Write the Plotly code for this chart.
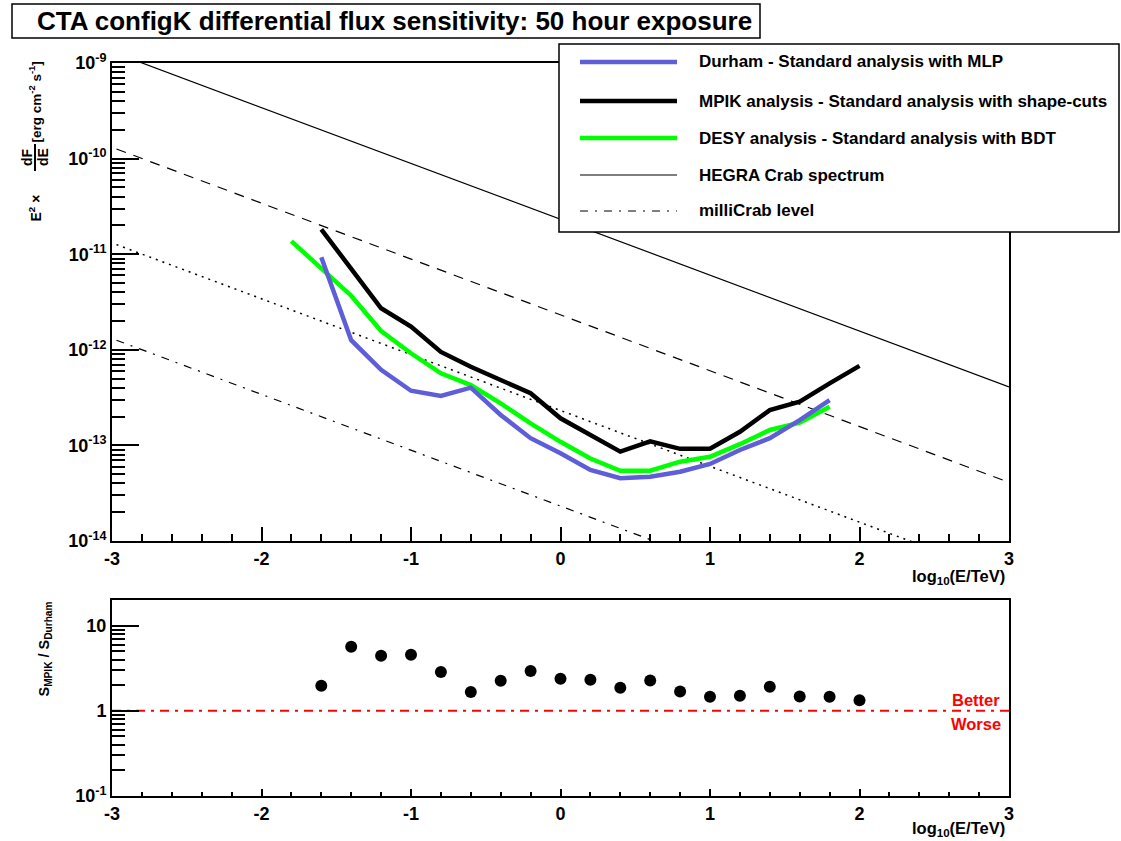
import plotly.graph_objects as go

# ---------------- data ----------------
energy_mpik = [-1.6, -1.4, -1.2, -1.0, -0.8, -0.6, -0.4, -0.2, 0.0, 0.2,
               0.4, 0.6, 0.8, 1.0, 1.2, 1.4, 1.6, 1.8, 2.0]
sens_mpik = [1.82e-11, 7.1e-12, 2.72e-12, 1.75e-12, 9.5e-13, 6.65e-13, 4.83e-13,
             3.51e-13, 1.92e-13, 1.29e-13, 8.6e-14, 1.1e-13, 9.2e-14, 9.25e-14,
             1.39e-13, 2.34e-13, 2.86e-13, 4.46e-13, 6.78e-13]

energy_durham = [-1.6, -1.4, -1.2, -1.0, -0.8, -0.6, -0.4, -0.2, 0.0, 0.2,
                 0.4, 0.6, 0.8, 1.0, 1.2, 1.4, 1.6, 1.8]
sens_durham = [9.3e-12, 1.26e-12, 6.17e-13, 3.73e-13, 3.29e-13, 4.02e-13, 2.08e-13,
               1.19e-13, 8.26e-14, 5.53e-14, 4.53e-14, 4.71e-14, 5.31e-14, 6.39e-14,
               8.95e-14, 1.19e-13, 1.84e-13, 2.98e-13]

energy_desy = [-1.8, -1.6, -1.4, -1.2, -1.0, -0.8, -0.6, -0.4, -0.2, 0.0,
               0.2, 0.4, 0.6, 0.8, 1.0, 1.2, 1.4, 1.6, 1.8]
sens_desy = [1.37e-11, 7.1e-12, 3.68e-12, 1.57e-12, 9.2e-13, 5.67e-13, 4.28e-13,
             2.75e-13, 1.70e-13, 1.09e-13, 7.3e-14, 5.43e-14, 5.43e-14, 6.76e-14,
             7.6e-14, 1.03e-13, 1.45e-13, 1.73e-13, 2.54e-13]

# reference power-law lines (end points)
ref_x = [-2.97, 3.0]
crab_flux = [1.26e-9, 4.1e-13]
crab_100m = [1.26e-10, 4.1e-14]
crab_10m = [1.26e-11, 4.1e-15]
crab_1m = [1.26e-12, 4.1e-16]

# ratio panel
ratio_x = [-1.6, -1.4, -1.2, -1.0, -0.8, -0.6, -0.4, -0.2, 0.0, 0.2,
           0.4, 0.6, 0.8, 1.0, 1.2, 1.4, 1.6, 1.8, 2.0]
ratio_y = [1.97, 5.66, 4.44, 4.56, 2.85, 1.66, 2.25, 2.93, 2.38, 2.32,
           1.86, 2.27, 1.69, 1.46, 1.50, 1.92, 1.47, 1.46, 1.33]
unity_x = [-3.0, 3.0]
unity_y = [1.0, 1.0]

x_ticks = [-3, -2, -1, 0, 1, 2, 3]
x_ticktext = ["<b>-3</b>", "<b>-2</b>", "<b>-1</b>", "<b>0</b>", "<b>1</b>", "<b>2</b>", "<b>3</b>"]
y_ticks = [1e-14, 1e-13, 1e-12, 1e-11, 1e-10, 1e-9]
y_ticktext = ["<b>10<sup>-14</sup></b>", "<b>10<sup>-13</sup></b>", "<b>10<sup>-12</sup></b>",
              "<b>10<sup>-11</sup></b>", "<b>10<sup>-10</sup></b>", "<b>10<sup>-9</sup></b>"]
r_ticks = [0.1, 1, 10]
r_ticktext = ["<b>10<sup>-1</sup></b>", "<b>1</b>", "<b>10</b>"]

legend_labels = ["Durham - Standard analysis with MLP",
                 "MPIK analysis - Standard analysis with shape-cuts",
                 "DESY analysis - Standard analysis with BDT",
                 "HEGRA Crab spectrum",
                 "milliCrab level"]

# ---------------- styling ----------------
W, H = 1121, 841
FONT = "Liberation Sans, Arial, sans-serif"
BLUE = "#5e5ed8"
GREEN = "#00ff00"
RED = "#ff0000"


def fx(px):
    return px / W


def fy(py):
    return 1 - py / H


x_minor = [round(-3 + 0.2 * i, 1) for i in range(31) if (i % 5) != 0]
y_minor = [m * 10.0 ** e for e in range(-14, -9) for m in range(2, 10)]
r_minor = [m * 10.0 ** e for e in (-1, 0) for m in range(2, 10)]

fig = go.Figure()

# top panel curves
fig.add_trace(go.Scatter(x=ref_x, y=crab_flux, mode="lines",
                         line=dict(color="black", width=1.2), xaxis="x", yaxis="y"))
fig.add_trace(go.Scatter(x=ref_x, y=crab_100m, mode="lines",
                         line=dict(color="black", width=1.2, dash="10px,8px"), xaxis="x", yaxis="y"))
fig.add_trace(go.Scatter(x=ref_x, y=crab_10m, mode="lines",
                         line=dict(color="black", width=1.5, dash="2px,5px"), xaxis="x", yaxis="y"))
fig.add_trace(go.Scatter(x=ref_x, y=crab_1m, mode="lines",
                         line=dict(color="black", width=1.2, dash="8px,7px,2px,7px"), xaxis="x", yaxis="y"))
fig.add_trace(go.Scatter(x=energy_desy, y=sens_desy, mode="lines",
                         line=dict(color=GREEN, width=4.5), xaxis="x", yaxis="y"))
fig.add_trace(go.Scatter(x=energy_durham, y=sens_durham, mode="lines",
                         line=dict(color=BLUE, width=4.5), xaxis="x", yaxis="y"))
fig.add_trace(go.Scatter(x=energy_mpik, y=sens_mpik, mode="lines",
                         line=dict(color="black", width=4.5), xaxis="x", yaxis="y"))

# bottom panel
fig.add_trace(go.Scatter(x=unity_x, y=unity_y, mode="lines",
                         line=dict(color=RED, width=2, dash="9px,6px,3px,6px"), xaxis="x2", yaxis="y2"))
fig.add_trace(go.Scatter(x=ratio_x, y=ratio_y, mode="markers",
                         marker=dict(color="black", size=12, symbol="circle"), xaxis="x2", yaxis="y2"))

axis_common = dict(showline=True, linecolor="black", linewidth=2, mirror=True,
                   showgrid=False, zeroline=False, ticks="inside", tickcolor="black",
                   tickwidth=1.5, tickmode="array", automargin=False,
                   tickfont=dict(family=FONT, size=18, color="black"))

fig.update_layout(
    template="none",
    width=W, height=H, autosize=False,
    margin=dict(l=0, r=0, t=0, b=0, pad=0),
    paper_bgcolor="white", plot_bgcolor="white",
    showlegend=False,
    font=dict(family=FONT, color="black"),
    xaxis=dict(domain=[fx(112), fx(1009)], range=[-3, 3], anchor="y",
               tickvals=x_ticks, ticktext=x_ticktext, ticklen=14,
               minor=dict(ticks="inside", ticklen=7, tickvals=x_minor, tickcolor="black", tickwidth=1.5),
               **axis_common),
    yaxis=dict(domain=[fy(541), fy(63)], type="log", range=[-14, -9], anchor="x",
               tickvals=y_ticks, ticktext=y_ticktext, ticklen=27,
               minor=dict(ticks="inside", ticklen=13, tickvals=y_minor, tickcolor="black", tickwidth=1.5),
               **axis_common),
    xaxis2=dict(domain=[fx(112), fx(1009)], range=[-3, 3], anchor="y2",
                tickvals=x_ticks, ticktext=x_ticktext, ticklen=7,
                minor=dict(ticks="inside", ticklen=4, tickvals=x_minor, tickcolor="black", tickwidth=1.5),
                **axis_common),
    yaxis2=dict(domain=[fy(796), fy(600)], type="log", range=[-1, 1.30103], anchor="x2",
                tickvals=r_ticks, ticktext=r_ticktext, ticklen=27,
                minor=dict(ticks="inside", ticklen=13, tickvals=r_minor, tickcolor="black", tickwidth=1.5),
                **axis_common),
)

shapes = []
annotations = []

# title box
shapes.append(dict(type="rect", xref="paper", yref="paper",
                   x0=fx(12), x1=fx(760), y0=fy(38), y1=fy(4),
                   line=dict(color="black", width=1.5), fillcolor="white"))
annotations.append(dict(xref="paper", yref="paper", x=fx(394), y=fy(21),
                        text="<b>CTA configK differential flux sensitivity: 50 hour exposure</b>",
                        showarrow=False, xanchor="center", yanchor="middle",
                        font=dict(family=FONT, size=26, color="black")))

# legend box
shapes.append(dict(type="rect", xref="paper", yref="paper",
                   x0=fx(559), x1=fx(1119), y0=fy(232), y1=fy(44),
                   line=dict(color="black", width=1.5), fillcolor="white", layer="above"))
leg_rows = [62, 101, 138, 175, 211]
leg_styles = [dict(color=BLUE, width=4.5), dict(color="black", width=4.5),
              dict(color=GREEN, width=4.5), dict(color="black", width=1.2),
              dict(color="black", width=1.2, dash="8px,7px,2px,7px")]
for row, st, lab in zip(leg_rows, leg_styles, legend_labels):
    shapes.append(dict(type="line", xref="paper", yref="paper",
                       x0=fx(580), x1=fx(677), y0=fy(row), y1=fy(row), line=st, layer="above"))
    annotations.append(dict(xref="paper", yref="paper", x=fx(697), y=fy(row),
                            text="<b>" + lab + "</b>", showarrow=False,
                            xanchor="left", yanchor="middle",
                            font=dict(family=FONT, size=17, color="black")))

# y-axis title of top panel (with stacked fraction)
annotations.append(dict(xref="paper", yref="paper", x=fx(35), y=fy(60),
                        text="<b>[erg cm<sup>-2</sup> s<sup>-1</sup>]</b>", textangle=-90,
                        showarrow=False, xanchor="center", yanchor="top",
                        font=dict(family=FONT, size=13.5, color="black")))
annotations.append(dict(xref="paper", yref="paper", x=fx(27), y=fy(157),
                        text="<b>dF</b>", textangle=-90, showarrow=False,
                        xanchor="center", yanchor="middle",
                        font=dict(family=FONT, size=14, color="black")))
annotations.append(dict(xref="paper", yref="paper", x=fx(43), y=fy(157),
                        text="<b>dE</b>", textangle=-90, showarrow=False,
                        xanchor="center", yanchor="middle",
                        font=dict(family=FONT, size=14, color="black")))
shapes.append(dict(type="line", xref="paper", yref="paper",
                   x0=fx(35), x1=fx(35), y0=fy(144), y1=fy(171),
                   line=dict(color="black", width=2)))
annotations.append(dict(xref="paper", yref="paper", x=fx(35), y=fy(224),
                        text="<b>E<sup>2</sup> ×</b>", textangle=-90,
                        showarrow=False, xanchor="center", yanchor="bottom",
                        font=dict(family=FONT, size=14, color="black")))

# y-axis title of bottom panel
annotations.append(dict(xref="paper", yref="paper", x=fx(44), y=fy(600),
                        text="<b>S<sub>MPIK</sub> / S<sub>Durham</sub></b>", textangle=-90,
                        showarrow=False, xanchor="center", yanchor="top",
                        font=dict(family=FONT, size=14.5, color="black")))

# x-axis titles
for ypx in (577, 829):
    annotations.append(dict(xref="paper", yref="paper", x=fx(1007), y=fy(ypx),
                            text="<b>log<sub>10</sub>(E/TeV)</b>", showarrow=False,
                            xanchor="right", yanchor="middle",
                            font=dict(family=FONT, size=16.5, color="black")))

# Better / Worse labels
annotations.append(dict(xref="paper", yref="paper", x=fx(976), y=fy(700),
                        text="<b>Better</b>", showarrow=False, xanchor="center", yanchor="middle",
                        font=dict(family=FONT, size=16.5, color=RED)))
annotations.append(dict(xref="paper", yref="paper", x=fx(976), y=fy(724),
                        text="<b>Worse</b>", showarrow=False, xanchor="center", yanchor="middle",
                        font=dict(family=FONT, size=16.5, color=RED)))

fig.update_layout(shapes=shapes, annotations=annotations)
fig.write_html("out.html",
               config={"displayModeBar": False},
               post_script="document.body.style.margin='0';document.body.style.overflow='hidden';")
